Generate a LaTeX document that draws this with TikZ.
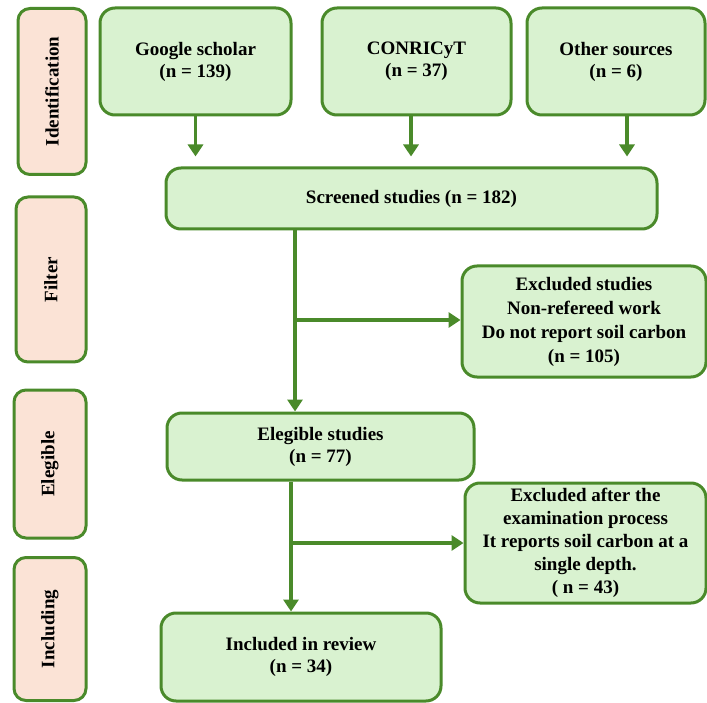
\documentclass[tikz,border=0pt]{standalone}
\usepackage{fontspec}
\setmainfont{Liberation Serif}
\usetikzlibrary{arrows.meta}
\definecolor{bord}{HTML}{4A8A2A}
\definecolor{gfill}{HTML}{D9F2D0}
\definecolor{pfill}{HTML}{FBE3D6}
\tikzset{
  x=1pt,y=1pt,
  gbox/.style={draw=bord,line width=3pt,fill=gfill,rounded corners=15pt,align=center,
    font=\fontsize{19}{22}\selectfont\bfseries,inner sep=0pt},
  sbox/.style={draw=bord,line width=3pt,fill=pfill,rounded corners=12pt,inner sep=0pt},
  slab/.style={rotate=90,font=\fontsize{19}{22}\selectfont\bfseries},
  arr/.style={draw=bord,line width=3.5pt,-{Triangle[width=15pt,length=12pt]}}
}
\begin{document}
\begin{tikzpicture}
\useasboundingbox (0,0) rectangle (707,-703);
% side labels
\node[sbox,minimum width=68pt,minimum height=166pt] (id) at (52,-91.5) {};
\node[slab] (idt) at (id.center) {Identification};
\node[sbox,minimum width=70pt,minimum height=165pt] (fi) at (51,-279.5) {};
\node[slab] (fit) at (fi.center) {Filter};
\node[sbox,minimum width=72pt,minimum height=148pt] (el) at (50,-464) {};
\node[slab] (elt) at (el.center) {Elegible};
\node[sbox,minimum width=72pt,minimum height=143pt] (in) at (50,-629) {};
\node[slab] (int) at (in.center) {Including};
% top sources
\node[gbox,minimum width=191pt,minimum height=107pt] (g) at (195.5,-61.5) {Google scholar\\(n = 139)};
\node[gbox,minimum width=189pt,minimum height=107pt] (c) at (416.5,-61.5) {CONRICyT\\(n = 37)};
\node[gbox,minimum width=178pt,minimum height=107pt] (o) at (616,-61.5) {Other sources\\(n = 6)};
% screened
\node[gbox,minimum width=491pt,minimum height=61pt] (s) at (411.5,-198.5) {Screened studies (n = 182)};
% excluded 1
\node[gbox,minimum width=244pt,minimum height=111pt,font=\fontsize{19}{24}\selectfont\bfseries] (x1) at (584,-321.5)
  {Excluded studies\\Non-refereed work\\Do not report soil carbon\\(n = 105)};
% elegible
\node[gbox,minimum width=307pt,minimum height=67pt] (e) at (320.5,-446.5) {Elegible studies\\(n = 77)};
% excluded 2
\node[gbox,minimum width=241pt,minimum height=120pt,font=\fontsize{19}{23}\selectfont\bfseries] (x2) at (585.5,-543)
  {Excluded after the\\examination process\\It reports soil carbon at a\\single depth.\\( n = 43)};
% included
\node[gbox,minimum width=280pt,minimum height=88pt] (r) at (301,-657) {Included in review\\(n = 34)};
% connectors
\draw[arr,shorten >=10pt] (g.south) -- (g.south |- s.north);
\draw[arr,shorten >=10pt] ([xshift=-5.5pt]c.south) -- ([xshift=-5.5pt]c.south |- s.north);
\draw[arr,shorten >=10pt] ([xshift=11pt]o.south) -- ([xshift=11pt]o.south |- s.north);
\coordinate (j1) at (295,-320);
\draw[arr] (s.south -| j1) -- (e.north -| j1);
\draw[arr] (j1) -- (x1.west |- j1);
\coordinate (j2) at (291,-543);
\draw[arr] (e.south -| j2) -- (r.north -| j2);
\draw[arr] (j2) -- (x2.west |- j2);
\end{tikzpicture}
\end{document}
